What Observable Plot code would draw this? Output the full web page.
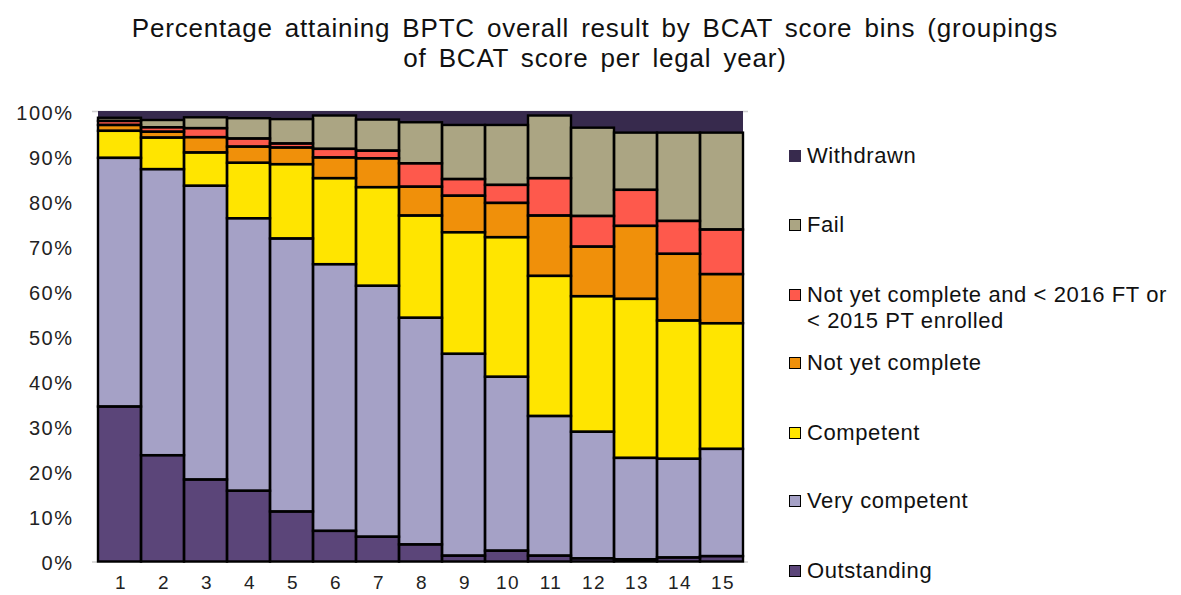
<!DOCTYPE html>
<html>
<head>
<meta charset="utf-8">
<script src="https://cdn.jsdelivr.net/npm/d3@7"></script>
<script src="https://cdn.jsdelivr.net/npm/@observablehq/plot@0.6"></script>
<style>
  html, body { margin: 0; padding: 0; background: #fff; }
  #wrap { position: relative; width: 1181px; height: 595px; overflow: hidden; font-family: "Liberation Sans", Arial, sans-serif; color: #111; }
  #title { position: absolute; left: 0; top: 13px; width: 1190px; text-align: center; font-size: 26px; line-height: 30px; letter-spacing: 0.8px; word-spacing: 4px; }
  #chart { position: absolute; left: 0; top: 90px; }
  #chart svg text { letter-spacing: 1.5px; }
  #legend { position: absolute; left: 789px; top: 0; }
  .item { position: absolute; left: 0; white-space: nowrap; font-size: 22px; line-height: 26px; letter-spacing: 0.6px; }
  .sw { position: absolute; left: 0; width: 10px; height: 10px; border: 1.5px solid #000; box-sizing: content-box; }
  .lbl { position: absolute; left: 18px; top: 0; }
</style>
</head>
<body>
<div id="wrap">
  <div id="title">Percentage attaining BPTC overall result by BCAT score bins (groupings<br>of BCAT score per legal year)</div>
  <div id="chart"></div>
  <div id="legend"></div>
</div>
<script>
// ---- data ----
const bins = ["1","2","3","4","5","6","7","8","9","10","11","12","13","14","15"];
const series = [
  "Outstanding",
  "Very competent",
  "Competent",
  "Not yet complete",
  "Not yet complete and < 2016 FT or < 2015 PT enrolled",
  "Fail",
  "Withdrawn"
];
const colors = ["#5b4579", "#a5a1c6", "#ffe500", "#f0900a", "#fe594c", "#aba583", "#372a4d"];

const outstanding   = [34.4, 23.6, 18.2, 15.7, 11.1, 6.8, 5.5, 3.8, 1.3, 2.4, 1.3, 0.7, 0.5, 0.9, 1.2];
const veryCompetent = [55.2, 63.5, 65.2, 60.5, 60.6, 59.2, 55.7, 50.3, 44.8, 38.6, 31.0, 28.1, 22.5, 21.9, 23.8];
const competent     = [6.0, 7.0, 7.4, 12.3, 16.5, 19.1, 21.9, 22.7, 27.0, 31.0, 31.1, 30.1, 35.3, 30.7, 27.9];
const notYet        = [1.3, 1.3, 3.4, 3.6, 3.7, 4.6, 6.4, 6.4, 8.1, 7.6, 13.4, 11.0, 16.2, 14.8, 10.9];
const notYetEarly   = [0.9, 1.0, 2.0, 1.8, 0.9, 1.9, 1.7, 5.2, 3.7, 4.0, 8.3, 6.8, 8.0, 7.3, 9.9];
const fail          = [0.7, 1.6, 2.4, 4.5, 5.4, 7.4, 6.9, 9.1, 12.0, 13.3, 13.9, 19.6, 12.7, 19.6, 21.5];
const withdrawn     = [1.5, 2.0, 1.4, 1.6, 1.8, 1.0, 1.9, 2.5, 3.1, 3.1, 1.0, 3.7, 4.8, 4.8, 4.8];

const yTicks = [0, 10, 20, 30, 40, 50, 60, 70, 80, 90, 100];

// ---- build table ----
const valueLists = [outstanding, veryCompetent, competent, notYet, notYetEarly, fail, withdrawn];
const rows = [];
series.forEach((s, i) => {
  bins.forEach((b, j) => rows.push({bin: b, series: s, value: valueLists[i][j]}));
});

const chart = Plot.plot({
  width: 760,
  height: 505,
  marginLeft: 92,
  marginRight: 12,
  marginTop: 21,
  marginBottom: 33.5,
  style: {fontFamily: "'Liberation Sans', Arial, sans-serif", color: "#222", background: "transparent"},
  x: {domain: bins, padding: 0, label: null},
  y: {domain: [0, 100], label: null},
  color: {domain: series, range: colors},
  opacity: {type: "identity"},
  marks: [
    Plot.ruleY([0, 100], {stroke: "#d0d0d0", strokeWidth: 1.5}),
    Plot.barY(rows, {x: "bin", y: "value", fill: "series", order: series}),
    Plot.barY(rows, {
      x: "bin", y: "value", z: "series", order: series,
      fill: "none", stroke: "#000", strokeWidth: 2.4,
      strokeOpacity: d => d.series === "Withdrawn" ? 0 : 1
    }),
    Plot.axisY({ticks: yTicks, tickFormat: d => d + "%", tickSize: 0, tickPadding: 19, fontSize: 20, dy: 2, label: null}),
    Plot.axisX({tickSize: 0, tickPadding: 13, fontSize: 19, dx: 1, label: null})
  ]
});
document.getElementById("chart").appendChild(chart);

// ---- legend (top to bottom: Withdrawn ... Outstanding) ----
const legendLines = {
  "Not yet complete and < 2016 FT or < 2015 PT enrolled": ["Not yet complete and < 2016 FT or", "< 2015 PT enrolled"]
};
const legendY = [143, 212, 282, 350, 420, 488, 558];
const legend = document.getElementById("legend");
series.slice().reverse().forEach((s, k) => {
  const item = document.createElement("div");
  item.className = "item";
  item.style.top = legendY[k] + "px";
  const sw = document.createElement("div");
  sw.className = "sw";
  sw.style.top = "7px";
  sw.style.background = colors[series.indexOf(s)];
  if (s === "Withdrawn") { sw.style.borderColor = colors[series.indexOf(s)]; }
  const lbl = document.createElement("div");
  lbl.className = "lbl";
  const lines = legendLines[s] || [s];
  lines.forEach((t, i) => {
    if (i) lbl.appendChild(document.createElement("br"));
    lbl.appendChild(document.createTextNode(t));
  });
  item.appendChild(sw);
  item.appendChild(lbl);
  legend.appendChild(item);
});
</script>
</body>
</html>
